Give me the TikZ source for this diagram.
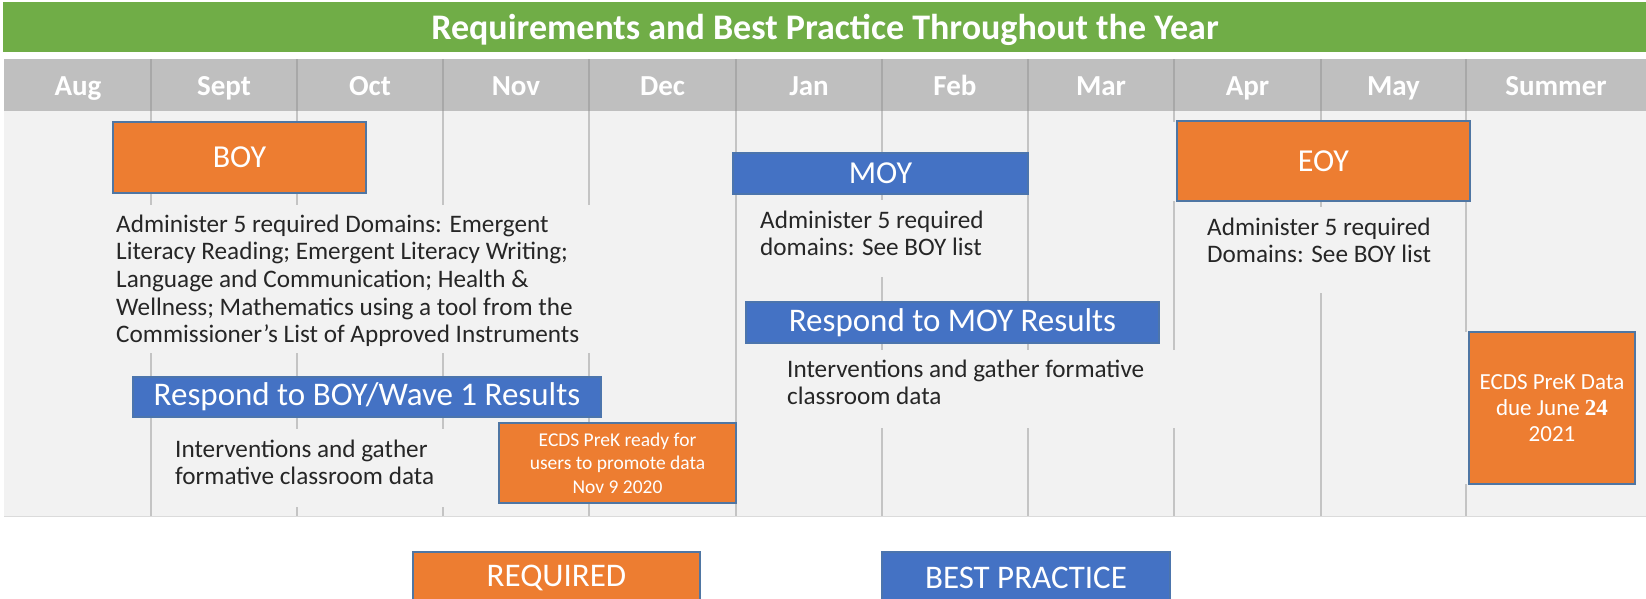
\documentclass[tikz,border=0pt]{standalone}
\usepackage{fontspec}
\setmainfont{Carlito}
\newfontfamily\numfont{Liberation Serif}
\definecolor{grnbar}{HTML}{70AD47}
\definecolor{hdrgray}{HTML}{BFBFBF}
\definecolor{hdrsep}{HTML}{A8A8A8}
\definecolor{bodybg}{HTML}{F2F2F2}
\definecolor{vline}{HTML}{C4C4C4}
\definecolor{orng}{HTML}{ED7D31}
\definecolor{blu}{HTML}{4472C4}
\definecolor{edgecol}{HTML}{4F76A3}
\definecolor{txtcol}{HTML}{262626}
\begin{document}
\begin{tikzpicture}[x=1pt,y=-1pt,
  reqbox/.style={fill=orng, draw=edgecol, line width=1.3pt, text=white, inner sep=0pt},
  bpbox/.style={fill=blu, draw=edgecol!70!blu, line width=1.3pt, text=white, inner sep=0pt},
  bigtxt/.style={font=\fontsize{32}{38}\selectfont},
  bartxt/.style={font=\fontsize{33}{39}\selectfont},
  bodytxt/.style={font=\fontsize{25.2}{27.7}\selectfont, text=txtcol, inner sep=0pt, anchor=base west},
  monthlbl/.style={font=\bfseries\fontsize{29}{34}\selectfont, text=white, anchor=base, inner sep=0pt},
  colline/.style={draw=vline, line width=1.8pt},
  hdrline/.style={draw=hdrsep, line width=1.6pt}]
\useasboundingbox (0,0) rectangle (1646,598);
\clip (0,0) rectangle (1646,598);
\fill[white] (0,0) rectangle (1646,598);
% title bar
\fill[grnbar] (3,2) rectangle (1646,52);
\node[font=\bfseries\fontsize{36}{42}\selectfont, text=white, anchor=base, inner sep=0pt] (title) at (825,39) {Requirements and Best Practice Throughout the Year};
% header
\fill[hdrgray] (4,59) rectangle (1646,111);
\foreach \x in {151,297,443,589,736,882,1028,1174,1321,1466}
  \draw[hdrline] (\x,59) -- (\x,111);
\foreach \c/\m/\n in {78/Aug/aug,224/Sept/sep,370/Oct/oct,516/Nov/nov,662.5/Dec/dec,809/Jan/jan,955/Feb/feb,1101/Mar/mar,1247.5/Apr/apr,1393.5/May/may,1556/Summer/sum}
  \node[monthlbl] (m-\n) at (\c,95) {\m};
% body
\fill[bodybg] (4,111) rectangle (1646,516);
\draw[draw=black!14, line width=1pt] (4,516.5) -- (1646,516.5);
\foreach \x/\a/\b in {
  151/111/122, 151/193/205, 151/353/377, 151/417/516,
  297/111/122, 297/193/205, 297/353/377, 297/417/429, 297/507/516,
  443/111/205, 443/353/377, 443/417/429, 443/507/516,
  589/111/205, 589/353/377, 589/417/423, 589/503/516,
  736/111/154, 736/194/516,
  882/111/154, 882/194/200, 882/277/302, 882/343/350, 882/428/516,
  1028/111/154, 1028/194/302, 1028/343/350, 1028/428/516,
  1174/111/122, 1174/201/350, 1174/428/516,
  1321/111/122, 1321/201/207, 1321/293/516,
  1466/111/122, 1466/201/332, 1466/484/516}
  \draw[colline] (\x,\a) -- (\x,\b);
% boxes
\node[reqbox, bigtxt, minimum width=253pt, minimum height=71pt] (boy) at (239.5,157.5) {BOY};
\node[bpbox, bigtxt, minimum width=295pt, minimum height=41pt] (moy) at (880.5,173.5) {MOY};
\node[reqbox, bigtxt, minimum width=293pt, minimum height=80pt] (eoy) at (1323.5,161) {EOY};
\node[bpbox, bartxt, minimum width=468pt, minimum height=40pt] (respboy) at (367,397) {Respond to BOY/Wave 1 Results};
\node[bpbox, bartxt, minimum width=413pt, minimum height=41pt] (respmoy) at (952.5,322.5) {Respond to MOY Results};
\node[reqbox, font=\fontsize{19.5}{23.5}\selectfont, align=center, minimum width=237pt, minimum height=80pt] (ecds1) at (617.5,463) {ECDS PreK ready for\\users to promote data\\Nov 9 2020};
\node[reqbox, font=\fontsize{23}{26}\selectfont, align=center, minimum width=166pt, minimum height=152pt] (ecds2) at (1552,408) {ECDS PreK Data\\due June {\numfont\bfseries 24}\\2021};
% texts
\node[bodytxt] (boytxt) at (116,232) {\begin{tabular}[t]{@{}l@{}}Administer 5 required Domains: Emergent\\Literacy Reading; Emergent Literacy Writing;\\Language and Communication; Health \&\\Wellness; Mathematics using a tool from the\\Commissioner’s List of Approved Instruments\end{tabular}};
\node[bodytxt] (moytxt) at (760,228) {\begin{tabular}[t]{@{}l@{}}Administer 5 required\\domains: See BOY list\end{tabular}};
\node[bodytxt] (eoytxt) at (1207,235) {\begin{tabular}[t]{@{}l@{}}Administer 5 required\\Domains: See BOY list\end{tabular}};
\node[bodytxt] (intboy) at (175,457) {\begin{tabular}[t]{@{}l@{}}Interventions and gather\\formative classroom data\end{tabular}};
\node[bodytxt] (intmoy) at (787,377) {\begin{tabular}[t]{@{}l@{}}Interventions and gather formative\\classroom data\end{tabular}};
% legend
\node[reqbox, bartxt, minimum width=287pt, minimum height=52pt] (legreq) at (556.5,578) {REQUIRED};
\node[bpbox, bartxt, minimum width=288pt, minimum height=52pt] (legbp) at (1026,578) {BEST PRACTICE};
\end{tikzpicture}
\end{document}
